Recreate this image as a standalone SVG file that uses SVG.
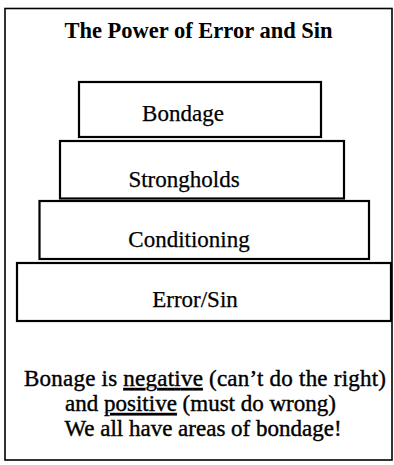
<svg xmlns="http://www.w3.org/2000/svg" width="394" height="465" viewBox="0 0 394 465">
<style>
.frame{fill:none;stroke:#000;stroke-width:1.6}
.box{fill:#fff;stroke:#000;stroke-width:2.2}
.lbl{font-family:"Liberation Serif","DejaVu Serif",serif;font-size:23px;fill:#000;stroke:#000;stroke-width:0.25;text-anchor:middle}
.title{font-family:"Liberation Serif","DejaVu Serif",serif;font-size:22.5px;font-weight:bold;fill:#000;text-anchor:middle}
.note{font-family:"Liberation Serif","DejaVu Serif",serif;font-size:23px;fill:#000;stroke:#000;stroke-width:0.4;text-anchor:middle}
</style>
<rect width="394" height="465" fill="#fff"/>
<rect class="frame" x="5" y="8.5" width="387" height="451.5"/>
<text class="title" x="198.5" y="38">The Power of Error and Sin</text>
<g id="connectors"></g>
<g id="error-sin">
<rect class="box" x="17" y="263" width="374" height="58"/>
<text class="lbl" x="195" y="307">Error/Sin</text>
</g>
<g id="conditioning">
<rect class="box" x="39.5" y="201" width="329.5" height="58"/>
<text class="lbl" x="189" y="247">Conditioning</text>
</g>
<g id="strongholds">
<rect class="box" x="60" y="141" width="284" height="57.5"/>
<text class="lbl" x="184" y="187">Strongholds</text>
</g>
<g id="bondage">
<rect class="box" x="79" y="82" width="242" height="55"/>
<text class="lbl" x="183" y="121">Bondage</text>
</g>
<g id="note">
<text class="note" x="205" y="386" textLength="362">Bonage is <tspan text-decoration="underline">negative</tspan> (can’t do the right)</text>
<text class="note" x="200.5" y="411">and <tspan text-decoration="underline">positive</tspan> (must do wrong)</text>
<text class="note" x="203" y="436">We all have areas of bondage!</text>
</g>
</svg>
